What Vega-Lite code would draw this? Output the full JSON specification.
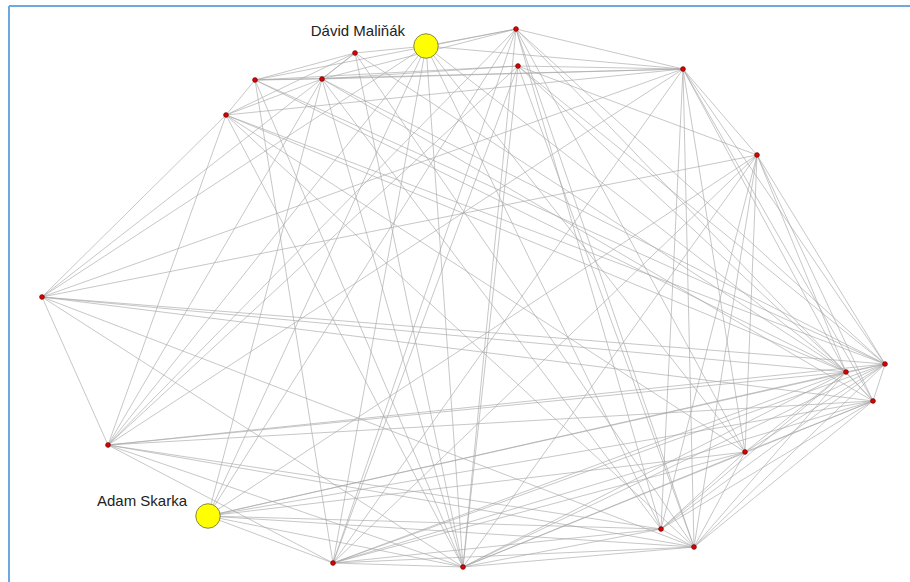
{
  "$schema": "https://vega.github.io/schema/vega-lite/v6.json",
  "width": 901,
  "height": 576,
  "autosize": {"type": "none"},
  "padding": {"left": 9, "top": 6, "right": 0, "bottom": 0},
  "background": "white",
  "config": {"view": {"stroke": null}},
  "datasets": {
    "nodes": [
      {"id": "A", "x": 426, "y": 46, "name": "Dávid Maliňák", "kind": "highlight"},
      {"id": "B", "x": 516, "y": 29, "name": "", "kind": "player"},
      {"id": "C", "x": 355, "y": 53, "name": "", "kind": "player"},
      {"id": "D", "x": 255, "y": 80, "name": "", "kind": "player"},
      {"id": "E", "x": 322, "y": 79, "name": "", "kind": "player"},
      {"id": "F", "x": 518, "y": 66, "name": "", "kind": "player"},
      {"id": "G", "x": 683, "y": 69, "name": "", "kind": "player"},
      {"id": "H", "x": 226, "y": 115, "name": "", "kind": "player"},
      {"id": "I", "x": 757, "y": 155, "name": "", "kind": "player"},
      {"id": "J", "x": 42, "y": 297, "name": "", "kind": "player"},
      {"id": "K", "x": 885, "y": 364, "name": "", "kind": "player"},
      {"id": "L", "x": 846, "y": 372, "name": "", "kind": "player"},
      {"id": "M", "x": 873, "y": 401, "name": "", "kind": "player"},
      {"id": "N", "x": 108, "y": 445, "name": "", "kind": "player"},
      {"id": "O", "x": 745, "y": 452, "name": "", "kind": "player"},
      {"id": "P", "x": 208, "y": 516, "name": "Adam Skarka", "kind": "highlight"},
      {"id": "Q", "x": 661, "y": 529, "name": "", "kind": "player"},
      {"id": "R", "x": 694, "y": 547, "name": "", "kind": "player"},
      {"id": "S", "x": 333, "y": 563, "name": "", "kind": "player"},
      {"id": "T", "x": 463, "y": 567, "name": "", "kind": "player"}
    ],
    "edges": [
      {"s": "A", "t": "B"}, {"s": "A", "t": "C"}, {"s": "A", "t": "S"}, {"s": "A", "t": "P"}, {"s": "A", "t": "T"}, {"s": "A", "t": "Q"}, {"s": "A", "t": "O"}, {"s": "A", "t": "L"}, {"s": "A", "t": "J"}, {"s": "A", "t": "N"}, {"s": "A", "t": "G"},
      {"s": "B", "t": "G"}, {"s": "B", "t": "E"}, {"s": "B", "t": "D"}, {"s": "B", "t": "S"}, {"s": "B", "t": "T"}, {"s": "B", "t": "Q"}, {"s": "B", "t": "R"}, {"s": "B", "t": "O"}, {"s": "B", "t": "K"}, {"s": "B", "t": "M"}, {"s": "B", "t": "P"}, {"s": "B", "t": "N"},
      {"s": "C", "t": "D"}, {"s": "C", "t": "E"}, {"s": "C", "t": "H"}, {"s": "C", "t": "J"}, {"s": "C", "t": "T"}, {"s": "C", "t": "R"}, {"s": "C", "t": "L"},
      {"s": "D", "t": "E"}, {"s": "D", "t": "H"}, {"s": "D", "t": "F"}, {"s": "D", "t": "G"}, {"s": "D", "t": "K"}, {"s": "D", "t": "L"}, {"s": "D", "t": "S"}, {"s": "D", "t": "T"},
      {"s": "E", "t": "H"}, {"s": "E", "t": "G"}, {"s": "E", "t": "F"}, {"s": "E", "t": "N"}, {"s": "E", "t": "P"}, {"s": "E", "t": "K"}, {"s": "E", "t": "M"}, {"s": "E", "t": "Q"}, {"s": "E", "t": "T"},
      {"s": "F", "t": "G"}, {"s": "F", "t": "I"}, {"s": "F", "t": "L"}, {"s": "F", "t": "K"}, {"s": "F", "t": "S"}, {"s": "F", "t": "T"}, {"s": "F", "t": "R"}, {"s": "F", "t": "N"},
      {"s": "G", "t": "H"}, {"s": "G", "t": "I"}, {"s": "G", "t": "J"}, {"s": "G", "t": "N"}, {"s": "G", "t": "K"}, {"s": "G", "t": "L"}, {"s": "G", "t": "M"}, {"s": "G", "t": "O"}, {"s": "G", "t": "Q"}, {"s": "G", "t": "R"}, {"s": "G", "t": "S"},
      {"s": "H", "t": "J"}, {"s": "H", "t": "N"}, {"s": "H", "t": "K"}, {"s": "H", "t": "L"}, {"s": "H", "t": "O"}, {"s": "H", "t": "T"}, {"s": "H", "t": "R"},
      {"s": "I", "t": "J"}, {"s": "I", "t": "K"}, {"s": "I", "t": "L"}, {"s": "I", "t": "M"}, {"s": "I", "t": "O"}, {"s": "I", "t": "Q"}, {"s": "I", "t": "R"}, {"s": "I", "t": "S"}, {"s": "I", "t": "P"}, {"s": "I", "t": "T"},
      {"s": "J", "t": "K"}, {"s": "J", "t": "L"}, {"s": "J", "t": "M"}, {"s": "J", "t": "R"}, {"s": "J", "t": "T"}, {"s": "J", "t": "N"},
      {"s": "K", "t": "L"}, {"s": "K", "t": "M"}, {"s": "L", "t": "M"},
      {"s": "N", "t": "K"}, {"s": "N", "t": "L"}, {"s": "N", "t": "M"}, {"s": "N", "t": "Q"}, {"s": "N", "t": "R"}, {"s": "N", "t": "S"}, {"s": "N", "t": "T"},
      {"s": "O", "t": "K"}, {"s": "O", "t": "L"}, {"s": "O", "t": "M"}, {"s": "O", "t": "Q"}, {"s": "O", "t": "R"}, {"s": "O", "t": "P"}, {"s": "O", "t": "S"}, {"s": "O", "t": "T"},
      {"s": "P", "t": "K"}, {"s": "P", "t": "L"}, {"s": "P", "t": "M"}, {"s": "P", "t": "Q"}, {"s": "P", "t": "R"}, {"s": "P", "t": "S"}, {"s": "P", "t": "T"},
      {"s": "Q", "t": "S"}, {"s": "Q", "t": "T"}, {"s": "Q", "t": "K"}, {"s": "Q", "t": "L"}, {"s": "Q", "t": "M"}, {"s": "Q", "t": "R"},
      {"s": "R", "t": "S"}, {"s": "R", "t": "T"}, {"s": "R", "t": "K"}, {"s": "R", "t": "M"}, {"s": "R", "t": "L"},
      {"s": "S", "t": "T"}, {"s": "S", "t": "K"}, {"s": "S", "t": "L"}, {"s": "S", "t": "M"},
      {"s": "T", "t": "K"}, {"s": "T", "t": "L"}, {"s": "T", "t": "M"}
    ]
  },
  "layer": [
    {
      "data": {"values": [{"edge": "top"}]},
      "mark": {"type": "rule", "color": "#6fa8dc", "strokeWidth": 2},
      "encoding": {
        "y": {"datum": 6, "type": "quantitative", "scale": {"domain": [6, 582], "reverse": true, "nice": false, "zero": false}, "axis": null}
      }
    },
    {
      "data": {"values": [{"edge": "left"}]},
      "mark": {"type": "rule", "color": "#6fa8dc", "strokeWidth": 2},
      "encoding": {
        "x": {"datum": 9, "type": "quantitative", "scale": {"domain": [9, 910], "nice": false, "zero": false}, "axis": null}
      }
    },
    {
      "data": {"name": "edges"},
      "transform": [
        {"lookup": "s", "from": {"data": {"name": "nodes"}, "key": "id", "fields": ["x", "y"]}, "as": ["sx", "sy"]},
        {"lookup": "t", "from": {"data": {"name": "nodes"}, "key": "id", "fields": ["x", "y"]}, "as": ["tx", "ty"]}
      ],
      "mark": {"type": "rule", "color": "#a6a6a6", "strokeWidth": 0.85, "opacity": 0.75},
      "encoding": {
        "x": {"field": "sx", "type": "quantitative", "scale": {"domain": [9, 910], "nice": false, "zero": false}, "axis": null},
        "y": {"field": "sy", "type": "quantitative", "scale": {"domain": [6, 582], "reverse": true, "nice": false, "zero": false}, "axis": null},
        "x2": {"field": "tx"},
        "y2": {"field": "ty"}
      }
    },
    {
      "data": {"name": "nodes"},
      "mark": {"type": "point", "filled": true, "shape": "circle", "opacity": 1},
      "encoding": {
        "x": {"field": "x", "type": "quantitative", "scale": {"domain": [9, 910], "nice": false, "zero": false}, "axis": null},
        "y": {"field": "y", "type": "quantitative", "scale": {"domain": [6, 582], "reverse": true, "nice": false, "zero": false}, "axis": null},
        "fill": {"field": "kind", "type": "nominal", "scale": {"domain": ["player", "highlight"], "range": ["#e00000", "#ffff00"]}, "legend": null},
        "stroke": {"field": "kind", "type": "nominal", "scale": {"domain": ["player", "highlight"], "range": ["#700000", "#6a6a3a"]}, "legend": null},
        "size": {"field": "kind", "type": "nominal", "scale": {"domain": ["player", "highlight"], "range": [22, 600]}, "legend": null},
        "strokeWidth": {"value": 0.8}
      }
    },
    {
      "data": {"name": "nodes"},
      "transform": [{"filter": "datum.name != ''"}],
      "mark": {"type": "text", "align": "right", "baseline": "alphabetic", "dx": -21, "dy": -10, "font": "Liberation Sans", "fontSize": 15, "color": "#222222"},
      "encoding": {
        "x": {"field": "x", "type": "quantitative", "scale": {"domain": [9, 910], "nice": false, "zero": false}, "axis": null},
        "y": {"field": "y", "type": "quantitative", "scale": {"domain": [6, 582], "reverse": true, "nice": false, "zero": false}, "axis": null},
        "text": {"field": "name"}
      }
    }
  ]
}
